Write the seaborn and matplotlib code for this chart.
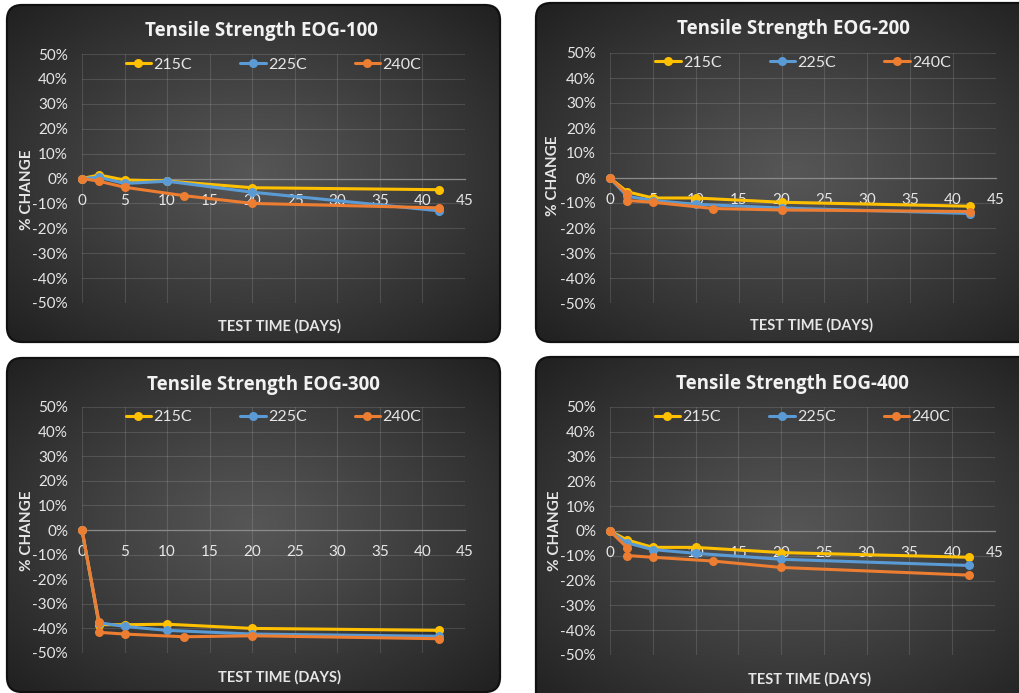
import numpy as np
import pandas as pd
import matplotlib
matplotlib.use("Agg")
import matplotlib.pyplot as plt
import seaborn as sns
from matplotlib.patches import FancyBboxPatch
from matplotlib.lines import Line2D
from matplotlib.ticker import FuncFormatter

W, H = 1019, 693

# ---- data (percent change in tensile strength vs. test time in days) ----
series_names = ["215C", "225C", "240C"]
series_colors = ["#FFC000", "#5B9BD5", "#ED7D31"]
grades = ["EOG-100", "EOG-200", "EOG-300", "EOG-400"]
x_ticks = [0, 5, 10, 15, 20, 25, 30, 35, 40, 45]
y_ticks = [-50, -40, -30, -20, -10, 0, 10, 20, 30, 40, 50]

days_main = [0, 2, 5, 10, 20, 42]
days_240_eog100 = [0, 2, 5, 12, 20, 42]
days_240 = [0, 2, 2, 5, 12, 20, 42]

eog100_215 = [0, 1.4, -0.6, -1.0, -3.7, -4.5]
eog100_225 = [0, 0.5, -2.0, -1.1, -5.5, -13.0]
eog100_240 = [0, -1.1, -3.5, -6.9, -10.0, -11.8]

eog200_215 = [0, -5.5, -8.0, -8.0, -9.7, -11.3]
eog200_225 = [0, -7.3, -9.0, -10.5, -12.0, -14.2]
eog200_240 = [0, -6.5, -9.0, -9.7, -12.2, -12.8, -13.4]

eog300_215 = [0, -38.5, -38.5, -38.3, -40.0, -40.8]
eog300_225 = [0, -37.7, -39.2, -40.8, -42.3, -43.2]
eog300_240 = [0, -37.3, -41.6, -42.3, -43.4, -43.0, -44.2]

eog400_215 = [0, -3.6, -6.6, -6.6, -8.7, -10.6]
eog400_225 = [0, -4.8, -7.5, -9.0, -11.4, -13.9]
eog400_240 = [0, -6.7, -9.9, -10.6, -12.1, -14.7, -17.8]

panel_series = {
    "EOG-100": [(days_main, eog100_215), (days_main, eog100_225), (days_240_eog100, eog100_240)],
    "EOG-200": [(days_main, eog200_215), (days_main, eog200_225), (days_240, eog200_240)],
    "EOG-300": [(days_main, eog300_215), (days_main, eog300_225), (days_240, eog300_240)],
    "EOG-400": [(days_main, eog400_215), (days_main, eog400_225), (days_240, eog400_240)],
}

# ---- layout in pixels ----
panel_boxes = [(7, 5, 500, 342), (536, 3, 1045, 342), (7, 358, 500, 692), (536, 357, 1045, 710)]
axes_boxes = [(82, 54, 465, 303), (610, 53, 996, 303), (82, 407, 465, 653), (610, 407, 995, 655)]
title_pos = [(261, 31), (793, 29), (263, 385), (792, 384)]
xlabel_pos = [(280, 326), (811, 325), (280, 677), (810, 679)]
ylabel_pos = [(27, 190), (553, 176), (27, 531), (555, 531)]
legend_y = [65, 63, 417, 417]

sns.set_theme(style="white")
plt.rcParams["font.family"] = ["Lato", "DejaVu Sans"]

fig = plt.figure(figsize=(W / 100, H / 100), dpi=100, facecolor="white")

# background layer in pixel units for the rounded dark panels
bg = fig.add_axes([0, 0, 1, 1], zorder=0)
bg.set_xlim(0, W)
bg.set_ylim(H, 0)
bg.axis("off")

ny, nx = 160, 240
gy, gx = np.mgrid[-1:1:ny * 1j, -1:1:nx * 1j]
rad = np.clip(np.sqrt(gx ** 2 + gy ** 2) / np.sqrt(2), 0, 1) ** 1.1
c_center, c_edge = 0x56 / 255, 0x20 / 255
shade = c_center * (1 - rad) + c_edge * rad
grad = np.dstack([shade, shade, shade])

for (x0, y0, x1, y1) in panel_boxes:
    clip = FancyBboxPatch((x0, y0), x1 - x0, y1 - y0,
                          boxstyle="round,pad=0,rounding_size=15",
                          transform=bg.transData, facecolor="none")
    im = bg.imshow(grad, extent=(x0, x1, y1, y0), aspect="auto",
                   interpolation="bilinear", zorder=1)
    im.set_clip_path(clip)
    border = FancyBboxPatch((x0, y0), x1 - x0, y1 - y0,
                            boxstyle="round,pad=0,rounding_size=15",
                            facecolor="none", edgecolor="#111111", linewidth=1.6, zorder=2)
    bg.add_patch(border)

text_color = "#e6e6e6"
pct = FuncFormatter(lambda v, _: f"{v:.0f}%")

for i, grade in enumerate(grades):
    l, t, r, b = axes_boxes[i]
    ax = fig.add_axes([l / W, 1 - b / H, (r - l) / W, (b - t) / H], zorder=2)
    ax.set_facecolor("none")

    rows = []
    for name, (days, vals) in zip(series_names, panel_series[grade]):
        for k, (d, v) in enumerate(zip(days, vals)):
            rows.append({"day": d, "change": v, "series": name, "order": k})
    df = pd.DataFrame(rows)

    sns.lineplot(data=df, x="day", y="change", hue="series",
                 hue_order=series_names, palette=series_colors,
                 estimator=None, sort=False, marker="o", markersize=6.5,
                 markeredgewidth=0, linewidth=2.2, legend=False,
                 clip_on=False, zorder=3, ax=ax)

    ax.set_xlim(0, 45)
    ax.set_ylim(-50, 50)
    ax.set_xticks(x_ticks)
    ax.set_yticks(y_ticks)
    ax.yaxis.set_major_formatter(pct)
    ax.grid(True, color="white", alpha=0.13, linewidth=0.8)
    for s in ["left", "right", "top"]:
        ax.spines[s].set_visible(False)
    ax.spines["bottom"].set_position(("data", 0))
    ax.spines["bottom"].set_color("#8a8a8a")
    ax.spines["bottom"].set_linewidth(0.9)
    ax.tick_params(axis="both", length=0, labelcolor=text_color, labelsize=11)
    ax.tick_params(axis="x", pad=11)
    ax.tick_params(axis="y", pad=10)
    ax.set_xlabel("")
    ax.set_ylabel("")

    handles = [Line2D([0], [0], color=c, linewidth=2.2, marker="o",
                      markersize=6.5, markeredgewidth=0) for c in series_colors]
    ax.legend(handles, series_names, loc="center", ncol=3, frameon=False,
              bbox_to_anchor=(((l + r) / 2) / W, 1 - legend_y[i] / H),
              bbox_transform=fig.transFigure, fontsize=11.5,
              labelcolor=text_color, handlelength=1.6, handletextpad=0.15,
              columnspacing=3.0)

    tx, ty = title_pos[i]
    fig.text(tx / W, 1 - ty / H, f"Tensile Strength {grade}", ha="center",
             va="center", fontsize=13.5, fontweight="bold", color="#f2f2f2",
             family=["Open Sans", "DejaVu Sans"])
    xx, xy = xlabel_pos[i]
    fig.text(xx / W, 1 - xy / H, "TEST TIME (DAYS)", ha="center", va="center",
             fontsize=10.5, fontweight="bold", color=text_color)
    yx, yy = ylabel_pos[i]
    fig.text(yx / W, 1 - yy / H, "% CHANGE", ha="center", va="center",
             rotation=90, fontsize=11, fontweight="bold", color=text_color)

fig.savefig("out.png", dpi=100, facecolor="white")
